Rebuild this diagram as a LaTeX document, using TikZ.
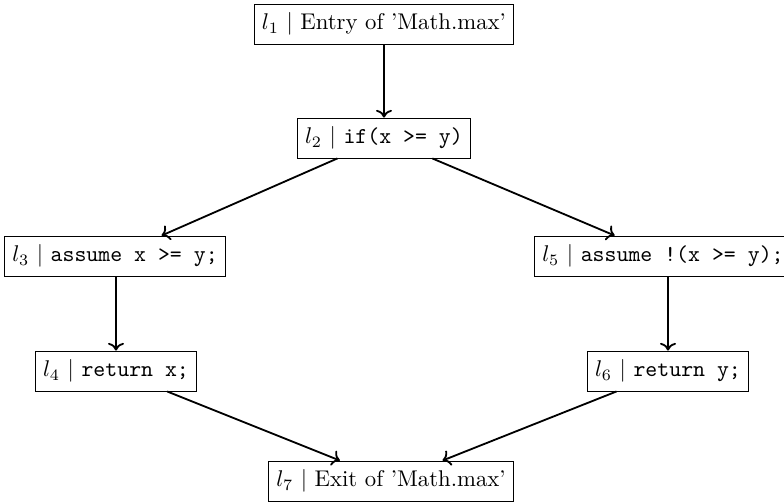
\documentclass[tikz,border=0pt]{standalone}
\usetikzlibrary{arrows.meta}
\begin{document}
\begin{tikzpicture}[x=0.44pt,y=-0.44pt,
  cfgnode/.style={draw,line width=0.4pt,inner xsep=3.33pt,inner ysep=3.8pt},
  edge/.style={->,thick}]
\useasboundingbox (0,0) rectangle (784,504);
\node[cfgnode] (l1) at (384,24) {$l_1$ | Entry of 'Math.max'};
\node[cfgnode] (l2) at (384,138) {$l_2$ | \texttt{if(x >= y)}};
\node[cfgnode] (l3) at (115,256) {$l_3$ | \texttt{assume x >= y;}};
\node[cfgnode] (l5) at (663,256) {$l_5$ | \texttt{assume !(x >= y);}};
\node[cfgnode] (l4) at (116,371) {$l_4$ | \texttt{return x;}};
\node[cfgnode] (l6) at (668,371) {$l_6$ | \texttt{return y;}};
\node[cfgnode] (l7) at (391,481) {$l_7$ | Exit of 'Math.max'};
\draw[edge] (l1) -- (l2);
\draw[edge] (l2) -- (l3);
\draw[edge] (l2) -- (l5);
\draw[edge] (l4.north |- l3.south) -- (l4.north);
\draw[edge] (l6.north |- l5.south) -- (l6.north);
\draw[edge] (l4) -- (l7);
\draw[edge] (l6) -- (l7);
\end{tikzpicture}
\end{document}
